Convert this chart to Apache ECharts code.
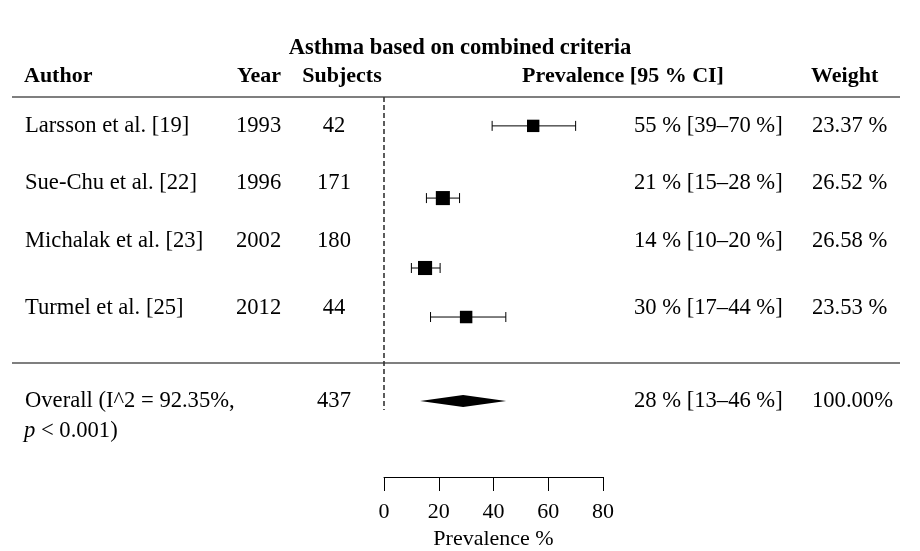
<!DOCTYPE html>
<html>
<head>
<meta charset="utf-8">
<script src="https://cdn.jsdelivr.net/npm/echarts@6/dist/echarts.min.js"></script>
<style>
html,body{margin:0;padding:0;background:#fff;}
#main{width:920px;height:551px;}
</style>
</head>
<body>
<div id="main"></div>
<script>
// ---- data ----
const title = 'Asthma based on combined criteria';
const headers = ['Author', 'Year', 'Subjects', 'Prevalence [95 % CI]', 'Weight'];
const authors = ['Larsson et al. [19]', 'Sue-Chu et al. [22]', 'Michalak et al. [23]', 'Turmel et al. [25]'];
const years = ['1993', '1996', '2002', '2012'];
const subjects = [42, 171, 180, 44];
const prevEst = [54.5, 21.5, 15, 30];
const prevLow = [39.5, 15.5, 10, 17];
const prevHigh = [70, 27.6, 20.5, 44.5];
const prevText = ['55 % [39–70 %]', '21 % [15–28 %]', '14 % [10–20 %]', '30 % [17–44 %]'];
const weights = [23.37, 26.52, 26.58, 23.53];
const weightText = ['23.37 %', '26.52 %', '26.58 %', '23.53 %'];
const overallLabel = 'Overall (I^2 = 92.35%,';
const overallP = '< 0.001)';
const overallSubjects = 437;
const overallEst = 28.9, overallLow = 13.2, overallHigh = 44.6;
const overallText = '28 % [13–46 %]';
const overallWeight = '100.00%';
const xName = 'Prevalence %';

// ---- layout (row positions on hidden y scale) ----
const headerRow = -0.55;
const textRows = [0.76, 2.26, 3.79, 5.55];
const markerRows = [0.76, 2.66, 4.5, 5.79];
const overallRow = 8.0;
const pRow = 8.79;
const ruleRows = [0, 7.0];
const dashEnd = 8.24;

const FONT = 'Liberation Serif, Times New Roman, serif';
const FS = 22.6;
const FSH = 22;

const chart = echarts.init(document.getElementById('main'));

// table cells: [row, colKey, text, bold]
const cells = [];
headers.forEach((h, j) => cells.push([headerRow, j, h, 1]));
authors.forEach((a, i) => {
  cells.push([textRows[i], 0, a, 0]);
  cells.push([textRows[i], 1, years[i], 0]);
  cells.push([textRows[i], 2, String(subjects[i]), 0]);
  cells.push([textRows[i], 3, prevText[i], 0]);
  cells.push([textRows[i], 4, weightText[i], 0]);
});
cells.push([overallRow, 0, overallLabel, 0]);
cells.push([overallRow, 2, String(overallSubjects), 0]);
cells.push([overallRow, 3, overallText, 0]);
cells.push([overallRow, 4, overallWeight, 0]);
cells.push([pRow, 5, overallP, 0]);

// column placement [x, align] for body and header
const colBody = [[25, 'left'], [236, 'left'], [334, 'center'], [634, 'left'], [812, 'left'], [24, 'left']];
const colHead = [[24, 'left'], [237, 'left'], [342, 'center'], [623, 'center'], [811, 'left']];

const forestData = prevEst.map((e, i) => [e, prevLow[i], prevHigh[i], markerRows[i], weights[i]]);

chart.setOption({
  animation: false,
  title: {
    text: title, left: 'center', top: 32,
    textStyle: { fontFamily: FONT, fontSize: 22.6, fontWeight: 'bold', color: '#000' }
  },
  grid: { left: 384, right: 317, top: 97, bottom: 74, containLabel: false, outerBoundsMode: 'none' },
  xAxis: {
    type: 'value', min: 0, max: 80, interval: 20, position: 'bottom',
    name: xName, nameLocation: 'middle', nameGap: 51,
    nameTextStyle: { fontFamily: FONT, fontSize: FSH, color: '#000' },
    axisLine: { show: true, onZero: false, lineStyle: { color: '#000', width: 1 } },
    axisTick: { show: true, length: 14, lineStyle: { color: '#000', width: 1 } },
    axisLabel: { fontFamily: FONT, fontSize: FSH, color: '#000', margin: 24 },
    splitLine: { show: false }
  },
  yAxis: { type: 'value', min: 0, max: 10, inverse: true, show: false },
  series: [
    {
      type: 'line', data: [[0, 0], [0, dashEnd]], symbol: 'none',
      lineStyle: { color: '#333', width: 1.6, type: [5, 3] }, silent: true
    },
    {
      type: 'custom', clip: false, silent: true,
      data: ruleRows.map(r => [0, r]),
      encode: { x: 0, y: 1 },
      renderItem: function (params, api) {
        const y = api.coord([0, api.value(1)])[1];
        return { type: 'line', shape: { x1: 12, y1: y, x2: 900, y2: y }, style: { stroke: '#555', lineWidth: 1.5 } };
      }
    },
    {
      type: 'custom', clip: false, silent: true,
      data: forestData,
      encode: { x: [0, 1, 2], y: 3 },
      renderItem: function (params, api) {
        const row = api.value(3);
        const c = api.coord([api.value(0), row]);
        const l = api.coord([api.value(1), row]);
        const h = api.coord([api.value(2), row]);
        const s = api.value(4) * 0.53;
        const cap = 5;
        const st = { stroke: '#000', lineWidth: 1 };
        return {
          type: 'group', children: [
            { type: 'line', shape: { x1: l[0], y1: l[1], x2: h[0], y2: h[1] }, style: st },
            { type: 'line', shape: { x1: l[0], y1: l[1] - cap, x2: l[0], y2: l[1] + cap }, style: st },
            { type: 'line', shape: { x1: h[0], y1: h[1] - cap, x2: h[0], y2: h[1] + cap }, style: st },
            { type: 'rect', shape: { x: c[0] - s / 2, y: c[1] - s / 2, width: s, height: s }, style: { fill: '#000' } }
          ]
        };
      }
    },
    {
      type: 'custom', clip: false, silent: true,
      data: [[overallEst, overallLow, overallHigh, overallRow]],
      encode: { x: [0, 1, 2], y: 3 },
      renderItem: function (params, api) {
        const row = api.value(3);
        const c = api.coord([api.value(0), row]);
        const l = api.coord([api.value(1), row]);
        const h = api.coord([api.value(2), row]);
        const d = 6;
        return {
          type: 'polygon',
          shape: { points: [[l[0], l[1]], [c[0], c[1] - d], [h[0], h[1]], [c[0], c[1] + d]] },
          style: { fill: '#000' }
        };
      }
    },
    {
      type: 'custom', clip: false, silent: true,
      data: cells.map(c => [0, c[0], c[1], c[3]]),
      encode: { x: 0, y: 1 },
      renderItem: function (params, api) {
        const cell = cells[params.dataIndex];
        const y = api.coord([0, cell[0]])[1];
        const bold = cell[3] === 1;
        const pos = bold ? colHead[cell[1]] : colBody[cell[1]];
        const fs = bold ? FSH : FS;
        const style = {
          text: cell[2], fontFamily: FONT, fontSize: fs,
          fontWeight: bold ? 'bold' : 'normal', fill: '#000',
          align: pos[1], verticalAlign: 'middle'
        };
        if (cell[1] === 5) {
          style.text = '{i|p} ' + cell[2];
          style.rich = { i: { fontStyle: 'italic', fontFamily: FONT, fontSize: fs, fill: '#000' } };
        }
        return { type: 'text', x: pos[0], y: y, style: style };
      }
    }
  ]
});
</script>
</body>
</html>
